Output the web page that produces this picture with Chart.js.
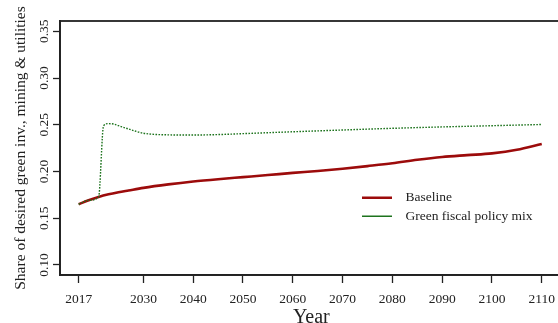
<!DOCTYPE html>
<html>
<head>
<meta charset="utf-8">
<script src="https://cdn.jsdelivr.net/npm/chart.js@4"></script>
<style>
  html, body { margin: 0; padding: 0; background: #fff; overflow: hidden; }
  #wrap { width: 563px; height: 323px; }
</style>
</head>
<body>
<div id="wrap"><canvas id="chart" width="563" height="323"></canvas></div>
<script>
// values
const baselineYears = [2017, 2019, 2021, 2023, 2025, 2027, 2030, 2035, 2040, 2045, 2050, 2055, 2060, 2065, 2070, 2075, 2080, 2085, 2090, 2095, 2100, 2105, 2110];
const baselineValues = [0.165, 0.1692, 0.1728, 0.1756, 0.1778, 0.1797, 0.1825, 0.1862, 0.1893, 0.1918, 0.194, 0.1962, 0.1985, 0.2006, 0.203, 0.2058, 0.2088, 0.2125, 0.2155, 0.2175, 0.2194, 0.2232, 0.2295];

const policyYears = [2017, 2019, 2021, 2022, 2023, 2024, 2025, 2027, 2030, 2035, 2040, 2045, 2050, 2060, 2070, 2080, 2090, 2100, 2110];
const policyValues = [0.165, 0.1692, 0.1728, 0.249, 0.2512, 0.2508, 0.249, 0.2455, 0.241, 0.2392, 0.239, 0.2395, 0.2405, 0.2425, 0.2444, 0.2462, 0.2477, 0.249, 0.2503];

const xTicks = [2017, 2030, 2040, 2050, 2060, 2070, 2080, 2090, 2100, 2110];
const yTicks = [0.10, 0.15, 0.20, 0.25, 0.30, 0.35];

const serif = '"Liberation Serif", "DejaVu Serif", serif';
const ink = '#222';

// box around the plot (top edge; left/bottom come from the axes)
const boxPlugin = {
  id: 'box',
  afterDraw(c) {
    const a = c.chartArea, ctx = c.ctx;
    ctx.save();
    ctx.strokeStyle = ink;
    ctx.lineWidth = 1.8;
    ctx.strokeRect(a.left, a.top, a.right - a.left, a.bottom - a.top);
    ctx.restore();
  }
};

// put the legend inside the plot, lower right
const legendPlace = {
  id: 'legendPlace',
  afterLayout(c) {
    const l = c.legend;
    const w = l.width, h = l.height;
    l.left = 357; l.top = 186;
    l.right = l.left + w; l.bottom = l.top + h;
  }
};

new Chart(document.getElementById('chart'), {
  type: 'line',
  data: {
    datasets: [{
      label: 'Baseline',
      data: baselineYears.map((y, i) => ({x: y, y: baselineValues[i]})),
      borderColor: '#9c0b0b',
      backgroundColor: '#9c0b0b',
      borderWidth: 2.6,
      pointRadius: 0,
      cubicInterpolationMode: 'monotone',
      order: 1
    }, {
      label: 'Green fiscal policy mix',
      data: policyYears.map((y, i) => ({x: y, y: policyValues[i]})),
      borderColor: '#1d731d',
      backgroundColor: '#1d731d',
      borderWidth: 1.4,
      borderDash: [1.6, 1.4],
      pointRadius: 0,
      cubicInterpolationMode: 'monotone',
      order: 0
    }]
  },
  options: {
    responsive: false,
    animation: false,
    devicePixelRatio: 1,
    layout: { padding: { top: 21, left: 0, right: 0, bottom: 0 } },
    scales: {
      x: {
        type: 'linear',
        min: 2013.25,
        max: 2114.2,
        afterBuildTicks: s => { s.ticks = xTicks.map(v => ({value: v})); },
        afterFit: s => { s.height = 48; },
        ticks: {
          font: { family: serif, size: 13.5 },
          color: ink,
          padding: 8,
          maxRotation: 0,
          callback: v => String(v)
        },
        grid: { drawOnChartArea: false, tickLength: 8, tickColor: ink, tickWidth: 1.3 },
        border: { color: ink, width: 1.8 },
        title: {
          display: true,
          text: 'Year',
          font: { family: serif, size: 20 },
          color: ink,
          padding: { top: 0, bottom: -6.5 }
        }
      },
      y: {
        min: 0.0893,
        max: 0.361,
        afterBuildTicks: s => { s.ticks = yTicks.map(v => ({value: v})); },
        afterFit: s => { s.width = 60; },
        ticks: {
          font: { family: serif, size: 13.5 },
          color: ink,
          minRotation: 90,
          maxRotation: 90,
          crossAlign: 'center',
          padding: -3,
          callback: v => v.toFixed(2)
        },
        grid: { drawOnChartArea: false, tickLength: 7, tickColor: ink, tickWidth: 1.3 },
        border: { color: ink, width: 1.8 },
        title: {
          display: true,
          text: 'Share of desired green inv., mining & utilities',
          font: { family: serif, size: 15.5 },
          color: ink,
          padding: { top: 12, bottom: 0 }
        }
      }
    },
    plugins: {
      legend: {
        position: 'chartArea',
        align: 'start',
        labels: {
          font: { family: serif, size: 13.5 },
          color: ink,
          usePointStyle: true,
          pointStyle: 'line',
          pointStyleWidth: 30,
          padding: 5,
          sort: (a, b) => a.datasetIndex - b.datasetIndex,
          generateLabels: c => {
            const items = Chart.defaults.plugins.legend.labels.generateLabels(c);
            items.forEach(it => { it.text = '  ' + it.text; });
            return items;
          }
        }
      },
      tooltip: { enabled: false }
    }
  },
  plugins: [boxPlugin, legendPlace]
});
</script>
</body>
</html>
